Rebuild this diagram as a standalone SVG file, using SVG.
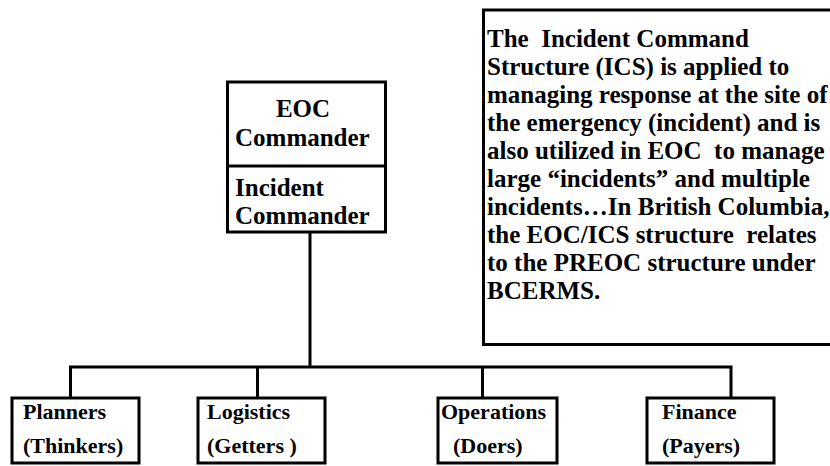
<svg xmlns="http://www.w3.org/2000/svg" width="830" height="466" viewBox="0 0 830 466">
  <style>
    .box { fill: #fff; stroke: #000; stroke-width: 3; }
    .wire { fill: none; stroke: #000; stroke-width: 3; }
    text { font-family: 'Liberation Serif', 'Times New Roman', serif; font-weight: 700; fill: #000; white-space: pre; }
    .big { font-size: 25px; }
    .small { font-size: 22px; }
  </style>
  <rect width="830" height="466" fill="#fff"/>

  <!-- connectors -->
  <g id="connectors">
    <path class="wire" d="M310 232 V367"/>
    <path class="wire" d="M70.5 398 V367 H731 V398"/>
    <path class="wire" d="M257.5 367 V398"/>
    <path class="wire" d="M482.5 367 V398"/>
  </g>

  <!-- commander -->
  <g id="commander">
    <rect class="box" x="227.5" y="82" width="158" height="150"/>
    <line class="wire" x1="227.5" y1="166" x2="385.5" y2="166"/>
    <text class="big" x="303" y="117" text-anchor="middle">EOC</text>
    <text class="big" x="235" y="146">Commander</text>
    <text class="big" x="235" y="196">Incident</text>
    <text class="big" x="235" y="224">Commander</text>
  </g>

  <!-- description -->
  <g id="note">
    <rect class="box" x="483.5" y="10" width="360" height="334.5"/>
    <text class="big" x="487" xml:space="preserve"><tspan x="487" y="47">The  Incident Command</tspan><tspan x="487" y="75">Structure (ICS) is applied to</tspan><tspan x="487" y="103">managing response at the site of</tspan><tspan x="487" y="131">the emergency (incident) and is</tspan><tspan x="487" y="159">also utilized in EOC  to manage</tspan><tspan x="487" y="187">large “incidents” and multiple</tspan><tspan x="487" y="215">incidents…In British Columbia,</tspan><tspan x="487" y="243">the EOC/ICS structure  relates</tspan><tspan x="487" y="271">to the PREOC structure under</tspan><tspan x="487" y="299">BCERMS.</tspan></text>
  </g>

  <!-- sections -->
  <g id="planners">
    <rect class="box" x="12" y="398" width="127" height="65"/>
    <text class="small" x="23" y="419">Planners</text>
    <text class="small" x="23" y="453">(Thinkers)</text>
  </g>
  <g id="logistics">
    <rect class="box" x="198" y="398" width="127" height="65"/>
    <text class="small" x="207" y="419">Logistics</text>
    <text class="small" x="207" y="453">(Getters )</text>
  </g>
  <g id="operations">
    <rect class="box" x="438" y="398" width="119" height="65"/>
    <text class="small" x="441" y="419">Operations</text>
    <text class="small" x="453" y="453">(Doers)</text>
  </g>
  <g id="finance">
    <rect class="box" x="647" y="398" width="127" height="65"/>
    <text class="small" x="662" y="419">Finance</text>
    <text class="small" x="662" y="453">(Payers)</text>
  </g>
</svg>
